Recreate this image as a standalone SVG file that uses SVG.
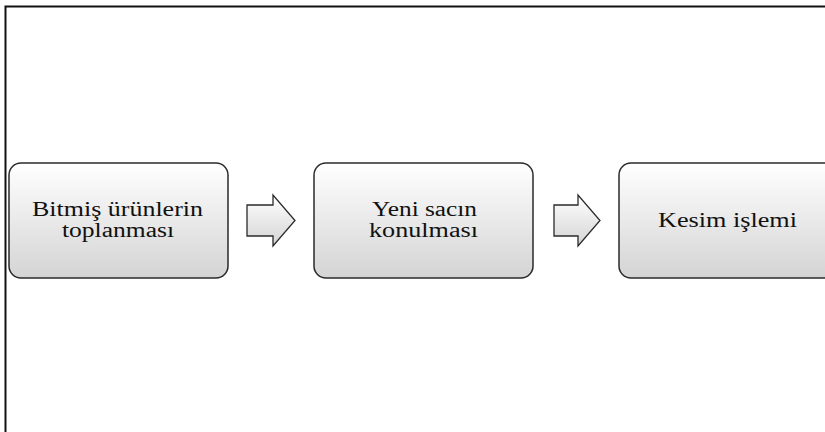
<svg xmlns="http://www.w3.org/2000/svg" width="825" height="432" viewBox="0 0 825 432">
<defs>
<linearGradient id="g" x1="0" y1="0" x2="0" y2="1">
<stop offset="0" stop-color="#ffffff"/>
<stop offset="1" stop-color="#d4d4d4"/>
</linearGradient>
<style>
.box{fill:url(#g);stroke:#2a2a2a;stroke-width:1.5}
.arr{fill:url(#g);stroke:#2a2a2a;stroke-width:1.3}
.t{font-size:20px;fill:#111;text-anchor:middle}
</style>
</defs>
<rect width="825" height="432" fill="#fff"/>
<path d="M5.5 432 V6.5 H825" fill="none" stroke="#111" stroke-width="2"/>
<g font-family="'Liberation Serif', 'Times New Roman', serif">
<g id="n1">
<rect class="box" x="9" y="163" width="219" height="115" rx="12"/>
<text class="t" x="117.5" y="216" textLength="171" lengthAdjust="spacingAndGlyphs">Bitmiş ürünlerin</text>
<text class="t" x="118" y="237" textLength="112" lengthAdjust="spacingAndGlyphs">toplanması</text>
</g>
<g id="n2">
<rect class="box" x="314" y="163" width="219" height="115" rx="12"/>
<text class="t" x="424.5" y="216" textLength="105" lengthAdjust="spacingAndGlyphs">Yeni sacın</text>
<text class="t" x="423.5" y="237" textLength="109" lengthAdjust="spacingAndGlyphs">konulması</text>
</g>
<g id="n3">
<rect class="box" x="619" y="163" width="219" height="115" rx="12"/>
<text class="t" x="727.5" y="227" textLength="139" lengthAdjust="spacingAndGlyphs">Kesim işlemi</text>
</g>
</g>
<g id="connectors">
<path class="arr" d="M247 205 H273 V195 L295 220.5 L273 246 V236 H247 Z"/>
<path class="arr" d="M554 205 H578 V195 L600 220.5 L578 246 V236 H554 Z"/>
</g>
</svg>
